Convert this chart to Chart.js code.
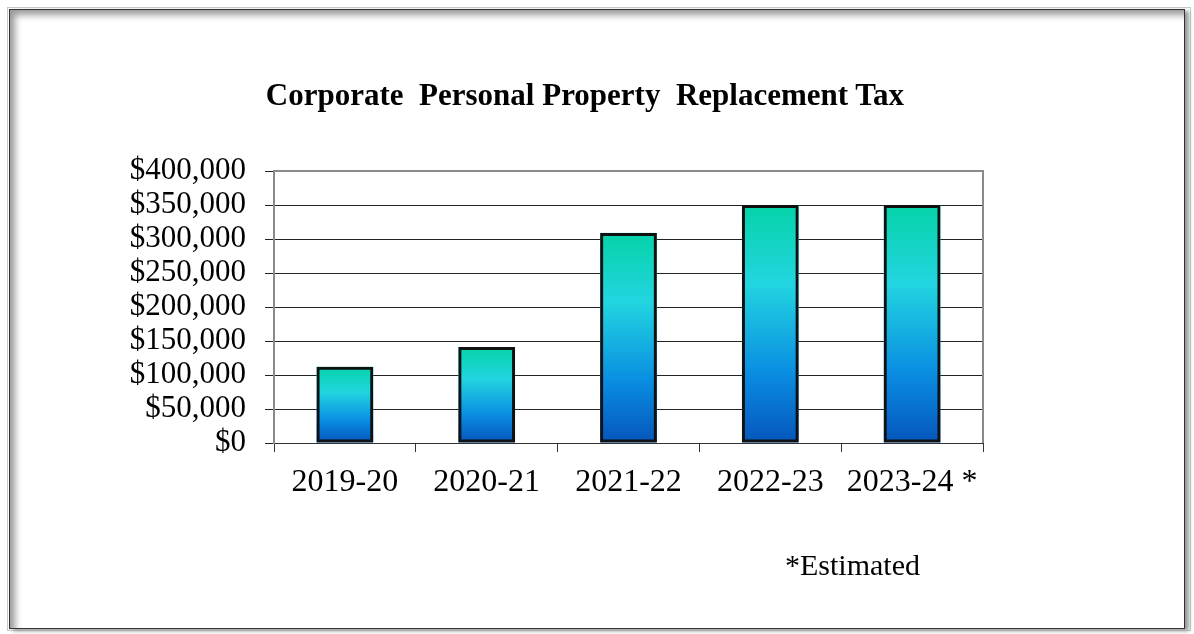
<!DOCTYPE html>
<html>
<head>
<meta charset="utf-8">
<script src="https://cdn.jsdelivr.net/npm/chart.js@4.4.0/dist/chart.umd.min.js"></script>
<style>
  html, body { margin: 0; padding: 0; background: #fff; width: 1194px; height: 634px; overflow: hidden; }
  #outer { position: absolute; left: 7px; top: 7px; width: 1184px; height: 624px; border: 1px solid #c8c8c8; box-sizing: border-box; }
  #inner { position: absolute; left: 9px; top: 9px; width: 1176px; height: 620px; border: 1px solid #333; box-sizing: border-box;
           box-shadow: inset 7px 7px 7px -2px #9a9a9a, 4px 2px 4px #999; }
  #wrap { position: absolute; left: 0; top: 0; width: 1194px; height: 634px; }
  #title { position: absolute; left: 0; width: 1170px; top: 77px; text-align: center; white-space: pre;
           font-family: "Liberation Serif", "Times New Roman", serif; font-weight: bold; font-size: 31px; color: #000; }
  #note { position: absolute; left: 785px; top: 548px; white-space: pre;
          font-family: "Liberation Serif", "Times New Roman", serif; font-size: 30px; color: #000; }
</style>
</head>
<body>
<div id="outer"></div>
<div id="inner"></div>
<div id="wrap"><canvas id="c" width="1194" height="634"></canvas></div>
<div id="title">Corporate  Personal Property  Replacement Tax</div>
<div id="note">*Estimated</div>
<script>
const categories = ["2019-20", "2020-21", "2021-22", "2022-23", "2023-24 *"];
const values = [112000, 141000, 309000, 350000, 350000];
const yTicks = [0, 50000, 100000, 150000, 200000, 250000, 300000, 350000, 400000];

const serif = '"Liberation Serif", "Times New Roman", serif';

const gradientBars = {
  id: 'gradientBars',
  beforeDatasetsDraw(chart) {
    const ctx = chart.ctx;
    const meta = chart.getDatasetMeta(0);
    meta.data.forEach(el => {
      const p = el.getProps(['x', 'y', 'base', 'width'], true);
      const left = p.x - p.width / 2;
      const top = Math.min(p.y, p.base);
      const h = Math.abs(p.base - p.y);
      const g = ctx.createLinearGradient(0, top, 0, top + h);
      g.addColorStop(0, '#05d3a8');
      g.addColorStop(0.33, '#22d5e0');
      g.addColorStop(0.7, '#0a8fe2');
      g.addColorStop(1, '#0556bb');
      ctx.save();
      ctx.fillStyle = g;
      ctx.fillRect(left, top, p.width, h);
      ctx.restore();
    });
  },
  afterDraw(chart) {
    const a = chart.chartArea;
    const ctx = chart.ctx;
    ctx.save();
    ctx.strokeStyle = '#8a8a8a';
    ctx.lineWidth = 2;
    ctx.beginPath();
    ctx.moveTo(a.left, a.top);
    ctx.lineTo(a.right, a.top);
    ctx.lineTo(a.right, a.bottom);
    ctx.stroke();
    ctx.restore();
  }
};

new Chart(document.getElementById('c'), {
  type: 'bar',
  data: {
    labels: categories,
    datasets: [{
      data: values,
      backgroundColor: 'rgba(0,0,0,0)',
      borderColor: '#111',
      borderWidth: 3,
      borderSkipped: false,
      categoryPercentage: 1,
      barPercentage: 0.4
    }]
  },
  options: {
    responsive: false,
    animation: false,
    events: [],
    layout: { padding: { left: 0, right: 211, top: 171, bottom: 0 } },
    plugins: { legend: { display: false }, title: { display: false }, tooltip: { enabled: false } },
    scales: {
      x: {
        offset: true,
        grid: { offset: true, drawOnChartArea: false, drawTicks: true, tickLength: 9, color: '#333', lineWidth: 1 },
        border: { display: true, color: '#333', width: 1 },
        ticks: { color: '#000', font: { family: serif, size: 32 }, padding: 11, maxRotation: 0, autoSkip: false },
        afterFit(scale) { scale.height = 191; }
      },
      y: {
        min: 0, max: 400000,
        afterBuildTicks(scale) { scale.ticks = yTicks.map(v => ({ value: v })); },
        grid: { color: '#222', lineWidth: 1, tickLength: 9, drawTicks: true },
        border: { display: true, color: '#8a8a8a', width: 2 },
        ticks: {
          autoSkip: false,
          color: '#000', font: { family: serif, size: 31 }, padding: 19,
          callback: v => '$' + Number(v).toLocaleString('en-US')
        },
        afterFit(scale) { scale.width = 274; }
      }
    }
  },
  plugins: [gradientBars]
});
</script>
</body>
</html>
